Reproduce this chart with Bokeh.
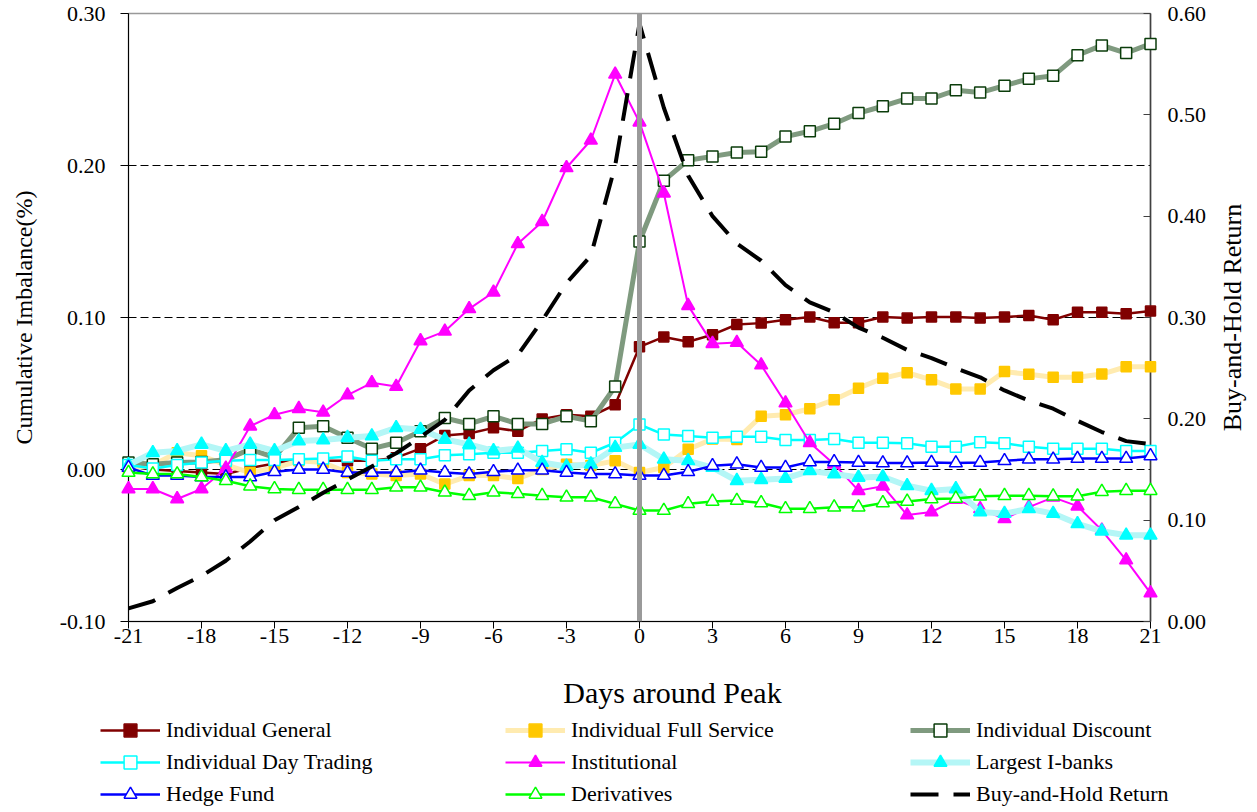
from bokeh.plotting import figure
from bokeh.layouts import row, column
from bokeh.models import (Range1d, LinearAxis, Span, Legend, LegendItem, Label,
                          NumeralTickFormatter, FixedTicker, ColumnDataSource)
from bokeh.embed import file_html
from bokeh.resources import INLINE

days = list(range(-21, 22))
x_ticks = list(range(-21, 22, 3))
left_ticks = [-0.1, 0.0, 0.1, 0.2, 0.3]
right_ticks = [0.0, 0.1, 0.2, 0.3, 0.4, 0.5, 0.6]

ind_general = [0.002, 0.000, -0.001, -0.002, -0.003, 0.001, 0.004, 0.0067, 0.0057, 0.0057, 0.0057,
               0.0078, 0.0137, 0.0224, 0.0237, 0.0274, 0.0252, 0.0333, 0.036, 0.035, 0.0426,
               0.0807, 0.0872, 0.084, 0.0887, 0.0954, 0.0963, 0.0985, 0.1003, 0.0965, 0.0965,
               0.1003, 0.0996, 0.1003, 0.1003, 0.0996, 0.1003, 0.1013, 0.0985, 0.1035, 0.1035,
               0.1024, 0.1042]
ind_full_service = [0.000, 0.003, 0.011, 0.009, 0.003, -0.002, 0.001, 0.0057, 0.0046, -0.002, -0.003,
                    -0.004, -0.003, -0.0096, -0.004, -0.004, -0.006, 0.000, 0.0035, 0.0026, 0.0057,
                    -0.002, 0.0013, 0.0133, 0.020, 0.0198, 0.035, 0.036, 0.040, 0.0459, 0.0535,
                    0.060, 0.0637, 0.059, 0.053, 0.053, 0.0644, 0.0626, 0.0607, 0.0607, 0.0628,
                    0.0676, 0.0676]
ind_discount = [0.0046, 0.0035, 0.0046, 0.005, 0.0065, 0.0133, 0.008, 0.0274, 0.0285, 0.0209, 0.0137,
                0.0176, 0.0252, 0.0339, 0.030, 0.035, 0.030, 0.030, 0.035, 0.0318, 0.0546,
                0.150, 0.190, 0.2035, 0.206, 0.2085, 0.209, 0.219, 0.2225, 0.2275, 0.2345,
                0.239, 0.244, 0.244, 0.2495, 0.248, 0.2525, 0.257, 0.259, 0.2725, 0.279,
                0.274, 0.280]
ind_day_trading = [0.003, 0.0007, 0.003, 0.0046, 0.0057, 0.0063, 0.0063, 0.0067, 0.0072, 0.0085, 0.0057,
                   0.0067, 0.0067, 0.0094, 0.010, 0.011, 0.011, 0.0122, 0.0133, 0.011, 0.0176,
                   0.0296, 0.023, 0.022, 0.0209, 0.0215, 0.0215, 0.0194, 0.0194, 0.020, 0.0176,
                   0.0176, 0.0172, 0.015, 0.015, 0.018, 0.0172, 0.015, 0.0137, 0.0137, 0.0137,
                   0.0122, 0.0122]
institutional = [-0.0128, -0.0128, -0.0194, -0.0128, 0.0007, 0.0285, 0.036, 0.040, 0.0376, 0.049, 0.057,
                 0.0546, 0.0846, 0.0909, 0.1057, 0.1166, 0.1485, 0.163, 0.1985, 0.2166, 0.260,
                 0.2285, 0.1818, 0.1078, 0.0828, 0.0835, 0.0687, 0.0437, 0.0176, 0.0035, -0.0139,
                 -0.011, -0.030, -0.028, -0.0198, -0.0259, -0.0324, -0.0248, -0.0183, -0.0241, -0.040,
                 -0.0596, -0.0813]
largest_ibanks = [0.003, 0.011, 0.0122, 0.0165, 0.0122, 0.0165, 0.0122, 0.0187, 0.0194, 0.0209, 0.022,
                  0.0274, 0.0263, 0.0198, 0.0165, 0.0122, 0.0139, 0.0046, 0.002, 0.0035, 0.0144,
                  0.0165, 0.0067, 0.0057, 0.0013, -0.0074, -0.0067, -0.0059, -0.0009, -0.003, -0.0052,
                  -0.0048, -0.0107, -0.0139, -0.0128, -0.028, -0.029, -0.0259, -0.029, -0.0357, -0.0406,
                  -0.0433, -0.0433]
hedge_fund = [0.0013, -0.004, -0.004, -0.005, -0.005, -0.005, -0.0015, 0.0, 0.0, -0.002, -0.002,
              -0.002, -0.0005, -0.002, -0.003, -0.0015, -0.0005, -0.0005, -0.002, -0.003, -0.003,
              -0.004, -0.004, -0.0015, 0.0024, 0.0035, 0.0013, 0.0013, 0.005, 0.005, 0.0046,
              0.0042, 0.0042, 0.0046, 0.0042, 0.0046, 0.0057, 0.0067, 0.0067, 0.0072, 0.0072,
              0.0072, 0.0089]
derivatives = [-0.002, -0.003, -0.003, -0.005, -0.0074, -0.011, -0.0128, -0.0133, -0.0133, -0.0133, -0.0133,
               -0.0117, -0.0117, -0.015, -0.0172, -0.015, -0.016, -0.0172, -0.0183, -0.0183, -0.0226,
               -0.027, -0.027, -0.0226, -0.021, -0.0204, -0.022, -0.0259, -0.0259, -0.0248, -0.0248,
               -0.022, -0.021, -0.0194, -0.019, -0.0176, -0.0172, -0.0172, -0.0176, -0.0176, -0.0146,
               -0.0139, -0.0139]
buy_hold_return = [0.013, 0.020, 0.033, 0.045, 0.060, 0.079, 0.100, 0.113, 0.127, 0.140, 0.153,
                   0.166, 0.182, 0.199, 0.228, 0.248, 0.263, 0.297, 0.334, 0.361, 0.450,
                   0.590, 0.507, 0.440, 0.400, 0.373, 0.356, 0.332, 0.315, 0.305, 0.290,
                   0.280, 0.268, 0.260, 0.250, 0.241, 0.228, 0.218, 0.210, 0.198, 0.187,
                   0.178, 0.175]

FONT = "Liberation Serif"
H_MAIN = 655
TOP = 13
BOTTOM = 34
W_MAIN = 1214
W_SIDE = 33
W_ALL = W_MAIN + W_SIDE
H_LEG = 155

p = figure(width=W_MAIN, height=H_MAIN, output_backend="svg", toolbar_location=None,
           x_range=Range1d(-21, 21), y_range=Range1d(-0.1, 0.3),
           min_border_left=128, min_border_right=64, min_border_top=TOP, min_border_bottom=BOTTOM)
p.extra_y_ranges = {"ret": Range1d(0, 0.6)}
p.xgrid.visible = False
p.ygrid.visible = False
p.outline_line_color = "#999999"
p.outline_line_width = 1.5

xa = p.xaxis[0]
xa.ticker = FixedTicker(ticks=x_ticks)
xa.major_label_overrides = {t: str(t) for t in x_ticks}
xa.major_tick_out = 7
xa.major_tick_in = 0
xa.minor_tick_out = 0
xa.minor_tick_in = 0
xa.major_label_standoff = 0
xa.axis_line_color = "black"
xa.major_tick_line_color = "black"

ya = p.yaxis[0]
ya.ticker = FixedTicker(ticks=left_ticks)
ya.formatter = NumeralTickFormatter(format="0.00")
ya.axis_label = "Cumulative Imbalance(%)"
ya.major_tick_out = 8
ya.major_tick_in = 0
ya.minor_tick_out = 0
ya.minor_tick_in = 0
ya.major_label_standoff = 15
ya.axis_label_standoff = 20
ya.axis_line_color = "black"
ya.major_tick_line_color = "black"

ra = LinearAxis(y_range_name="ret", ticker=FixedTicker(ticks=right_ticks),
                formatter=NumeralTickFormatter(format="0.00"))
ra.major_tick_out = 0
ra.major_tick_in = 7
ra.minor_tick_out = 0
ra.minor_tick_in = 0
ra.major_label_standoff = 17
ra.axis_line_color = "#404040"
ra.axis_line_width = 1.5
ra.major_tick_line_color = "#404040"
p.add_layout(ra, "right")

for ax in (xa, ya, ra):
    ax.major_label_text_font = FONT
    ax.major_label_text_font_size = "22px"
    ax.major_label_text_color = "black"
    ax.axis_label_text_font = FONT
    ax.axis_label_text_font_style = "normal"
    ax.axis_label_text_color = "black"
ya.axis_label_text_font_size = "24px"

for g in (0.0, 0.1, 0.2):
    p.add_layout(Span(location=g, dimension="width", line_color="black",
                      line_dash="8 4", line_width=1.2, level="underlay"))

src = ColumnDataSource(dict(day=days, gen=ind_general, full=ind_full_service, disc=ind_discount,
                            dt=ind_day_trading, inst=institutional, ib=largest_ibanks,
                            hf=hedge_fund, der=derivatives, bh=buy_hold_return))

# lower panel: x-axis title and legend (pixel-scaled ranges)
p3 = figure(width=W_ALL, height=H_LEG, output_backend="svg", toolbar_location=None,
            x_axis_location=None, y_axis_location=None,
            x_range=Range1d(0, W_ALL), y_range=Range1d(0, H_LEG), min_border=0)
p3.outline_line_color = None
p3.xgrid.visible = False
p3.ygrid.visible = False
hidden = ColumnDataSource(dict(x=[-100], y=[-100]))

items = []

def series(col, label, line_color, line_width, marker, m_fill, m_line, m_size, m_lw=1.5):
    p.line("day", col, source=src, line_color=line_color, line_width=line_width, level="overlay")
    p.scatter("day", col, source=src, marker=marker, size=m_size, fill_color=m_fill,
              line_color=m_line, line_width=m_lw, level="overlay")
    lr = p3.line("x", "y", source=hidden, line_color=line_color, line_width=line_width)
    sr = p3.scatter("x", "y", source=hidden, marker=marker, size=m_size, fill_color=m_fill,
                    line_color=m_line, line_width=m_lw)
    items.append(LegendItem(label=label, renderers=[lr, sr]))

series("gen", "Individual General", "#800000", 2.5, "square", "#800000", "#800000", 10)
series("full", "Individual Full Service", "#FFEBB0", 5, "square", "#FFC800", "#FFC800", 10)
series("disc", "Individual Discount", "#7F9A7F", 5, "square", "white", "#0B3D0B", 11)
series("dt", "Individual Day Trading", "#00FFFF", 2.5, "square", "white", "#00FFFF", 11)
series("inst", "Institutional", "#FF00FF", 2, "triangle", "#FF00FF", "#FF00FF", 13)
series("ib", "Largest I-banks", "#B4F6F6", 6, "triangle", "#00FFFF", "#00FFFF", 13)
series("hf", "Hedge Fund", "#0000FF", 2.5, "triangle", "white", "#0000FF", 13)
series("der", "Derivatives", "#00FF00", 2.5, "triangle", "white", "#00FF00", 13)

p.line("day", "bh", source=src, y_range_name="ret", line_color="black", line_width=4,
       line_dash="28 15", level="overlay")
bh_leg = p3.line("x", "y", source=hidden, line_color="black", line_width=4, line_dash="28 15")
items.append(LegendItem(label="Buy-and-Hold Return", renderers=[bh_leg]))

p.add_layout(Span(location=0, dimension="height", line_color="#9A9A9A", line_width=5, level="overlay"))

legend = Legend(items=items, location=(100, 0), orientation="horizontal", ncols=3,
                glyph_width=60, glyph_height=32, label_width=339, label_standoff=6,
                spacing=0, padding=0, margin=0, border_line_color=None,
                background_fill_alpha=0, label_text_font=FONT, label_text_font_size="22px",
                label_text_color="black")
p3.add_layout(legend)

p3.add_layout(Label(x=672, y=H_LEG - (692 - H_MAIN), text="Days around Peak",
                    text_align="center", text_baseline="middle", text_font=FONT,
                    text_font_size="30px", text_color="black"))

# narrow companion figure carrying the right-hand axis title (reads bottom-to-top)
p2 = figure(width=W_SIDE, height=H_MAIN, output_backend="svg", toolbar_location=None,
            x_axis_location=None, x_range=Range1d(0, 1), y_range=Range1d(0, 0.6),
            min_border_left=31, min_border_right=0, min_border_top=TOP, min_border_bottom=BOTTOM)
p2.outline_line_color = None
p2.xgrid.visible = False
p2.ygrid.visible = False
ay2 = p2.yaxis[0]
ay2.ticker = FixedTicker(ticks=[])
ay2.axis_line_color = None
ay2.major_tick_out = 0
ay2.major_tick_in = 0
ay2.minor_tick_out = 0
ay2.minor_tick_in = 0
ay2.major_label_standoff = 0
ay2.axis_label = "Buy-and-Hold Return"
ay2.axis_label_standoff = 0
ay2.axis_label_text_font = FONT
ay2.axis_label_text_font_style = "normal"
ay2.axis_label_text_font_size = "26px"
ay2.axis_label_text_color = "black"

layout = column(row(p, p2), p3)
open("out.html", "w").write(file_html(layout, INLINE))
